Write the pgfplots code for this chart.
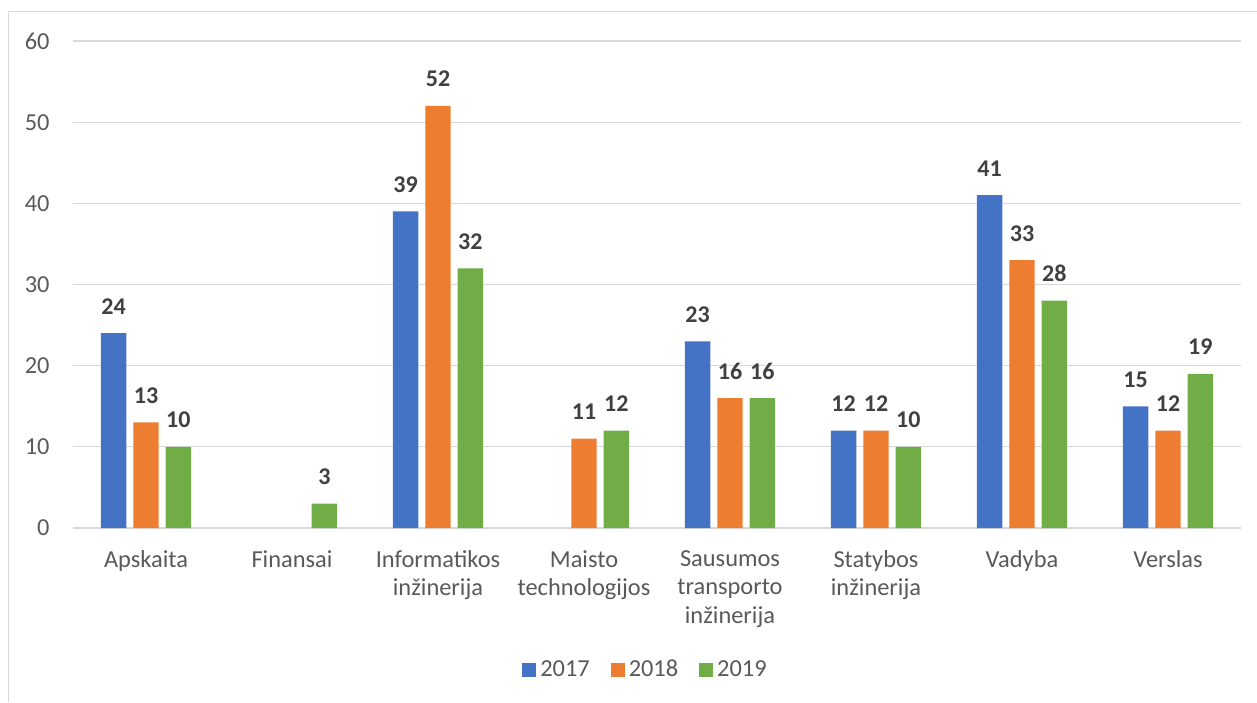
\documentclass[border=0pt]{standalone}
\usepackage{pgfplots}
\pgfplotsset{compat=1.18}
\usepackage{fontspec}
\setmainfont{Carlito}

\definecolor{c2017}{HTML}{4472C4}
\definecolor{c2018}{HTML}{ED7D31}
\definecolor{c2019}{HTML}{70AD47}
\definecolor{gridgray}{HTML}{D9D9D9}
\definecolor{ticktext}{HTML}{595959}
\definecolor{labeltext}{HTML}{404040}

\begin{document}
\begin{tikzpicture}
	\useasboundingbox (0,0) rectangle (628.5pt,351pt);
	\begin{axis}[
		at = {(36.5pt,87pt)},
		anchor = south west,
		scale only axis,
		width = 584pt,
		height = 243.5pt,
		ybar = 3.5pt,
		bar width = 12.7pt,
		xmin = -0.5, xmax = 7.5,
		ymin = 0, ymax = 60,
		ytick distance = 10,
		xtick = {0,...,7},
		xticklabels = {Apskaita, Finansai, {Informatikos\\inžinerija}, {Maisto\\technologijos}, {Sausumos\\transporto\\inžinerija}, {Statybos\\inžinerija}, Vadyba, Verslas},
		axis lines* = left,
		y axis line style = {draw=none},
		x axis line style = {draw=gridgray, line width=0.9pt},
		major tick length = 0pt,
		ymajorgrids,
		grid style = {draw=gridgray, line width=0.6pt},
		tick label style = {font=\fontsize{12.2}{14.3}\selectfont, text=ticktext},
		xticklabel style = {align=center, inner sep=0pt, yshift=-11pt},
		yticklabel style = {inner sep=0pt, xshift=-11.5pt},
		/pgf/number format/assume math mode = true,
		nodes near coords,
		every node near coord/.append style = {font=\fontsize{12}{14}\selectfont\bfseries, text=labeltext, inner sep=0pt, yshift=9.2pt},
		legend columns = 3,
		legend style = {at={(0.491,-0.2916)}, anchor=center, draw=none, fill=none,
			font=\fontsize{12.2}{14}\selectfont, text=ticktext,
			/tikz/every even column/.append style={column sep=8.5pt}},
		legend image code/.code = {\fill (0pt,-3.5pt) rectangle (7pt,3.5pt);},
		]
		\addplot[fill=c2017, draw=none] coordinates {
			(0,24) (2,39) (4,23) (5,12) (6,41) (7,15)
		};
		\addplot[fill=c2018, draw=none] coordinates {
			(0,13) (2,52) (3,11) (4,16) (5,12) (6,33) (7,12)
		};
		\addplot[fill=c2019, draw=none] coordinates {
			(0,10) (1,3) (2,32) (3,12) (4,16) (5,10) (6,28) (7,19)
		};
		\legend{2017, 2018, 2019}
	\end{axis}
	\draw[gridgray, line width=0.6pt] (4.25pt,0pt) -- (4.25pt,345.25pt) -- (628.5pt,345.25pt);
\end{tikzpicture}
\end{document}
